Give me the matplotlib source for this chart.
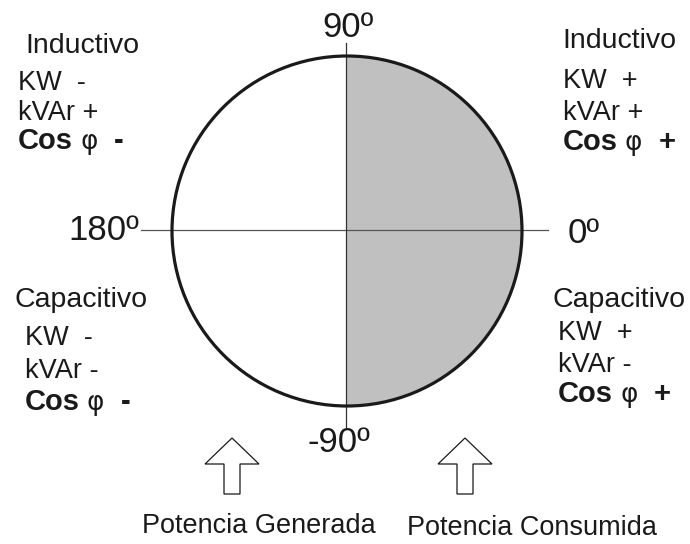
import matplotlib
matplotlib.use("Agg")
import matplotlib.pyplot as plt
from matplotlib.patches import Circle, Wedge, Polygon

plt.rcParams['font.family'] = ['Liberation Sans', 'DejaVu Sans']

# Quadrant data (top-left, top-right, bottom-left, bottom-right)
quad_titles = ['Inductivo', 'Inductivo', 'Capacitivo', 'Capacitivo']
kw_signs = ['-', '+', '-', '+']
kvar_signs = ['+', '+', '-', '-']
cos_signs = ['-', '+', '-', '+']

# Angle labels: top, left, right, bottom
angle_labels = ['90º', '180º', '0º', '-90º']

# Bottom captions
captions = ['Potencia Generada', 'Potencia Consumida']

# Layout (pixel coordinates)
cx, cy, r = 347, 231, 175
title_pos = [(25, 53), (562, 48), (15, 307), (553, 307)]
line_x = [18, 563, 25, 558]
line_y = [(90, 120, 149), (88, 120, 150), (345, 378, 410), (340, 372, 402)]
angle_pos = [(348, 37, 'center'), (139, 240, 'right'), (568, 243, 'left'), (339, 452, 'center')]
arrow_cx = [232, 465]
caption_pos = [(259, 533), (532, 535)]

fig = plt.figure(figsize=(6.9, 5.44), dpi=100)
ax = fig.add_axes([0, 0, 1, 1])
ax.set_xlim(0, 690)
ax.set_ylim(544, 0)
ax.axis('off')

# Right half shaded, circle outline
ax.add_patch(Wedge((cx, cy), r, -90, 90, fc='#c0c0c0', ec='none', zorder=1))
ax.plot([141, 548], [cy - 1, cy - 1], color='#555555', lw=0.9, zorder=2)
ax.plot([cx - 1, cx - 1], [43, 427], color='#333333', lw=0.9, zorder=2)
ax.add_patch(Circle((cx, cy), r, fill=False, ec='#1a1a1a', lw=2.3, zorder=3))

# Angle labels
for lab, (x, y, ha) in zip(angle_labels, angle_pos):
    ax.text(x, y, lab, fontsize=25, ha=ha, va='baseline', color='#1a1a1a')

# Quadrant texts
for i in range(4):
    tx, ty = title_pos[i]
    ax.text(tx, ty, quad_titles[i], fontsize=20.5, ha='left', va='baseline', color='#1a1a1a')
    x0 = line_x[i]
    y1, y2, y3 = line_y[i]
    ax.text(x0, y1, 'KW  ' + kw_signs[i], fontsize=19.5, ha='left', va='baseline', color='#1a1a1a')
    ax.text(x0, y2, 'kVAr ' + kvar_signs[i], fontsize=19.5, ha='left', va='baseline', color='#1a1a1a')
    ax.text(x0, y3, 'Cos', fontsize=21, fontweight='bold', ha='left', va='baseline', color='#1a1a1a')
    ax.text(x0 + 62, y3, 'φ', fontsize=19, ha='left', va='baseline', color='#1a1a1a',
            family=['DejaVu Sans'])
    ax.text(x0 + 96, y3, cos_signs[i], fontsize=21, fontweight='bold', ha='left', va='baseline',
            color='#1a1a1a')

# Hollow arrows
for ac in arrow_cx:
    pts = [(ac, 438), (ac + 27, 464), (ac + 8, 464), (ac + 8, 494),
           (ac - 8, 494), (ac - 8, 464), (ac - 27, 464)]
    ax.add_patch(Polygon(pts, closed=True, fc='white', ec='#1a1a1a', lw=0.9))

# Captions
for cap, (x, y) in zip(captions, caption_pos):
    ax.text(x, y, cap, fontsize=19.5, ha='center', va='baseline', color='#1a1a1a')

fig.savefig('out.png', dpi=100)
